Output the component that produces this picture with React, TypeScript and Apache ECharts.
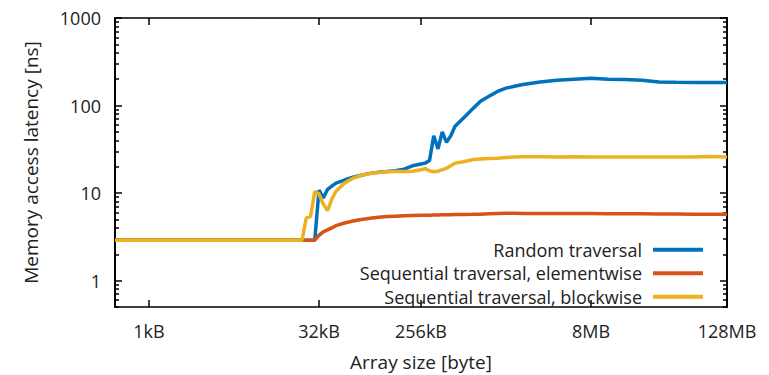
import React, { useEffect, useRef } from "react";
import * as echarts from "echarts";

// Array size as log2(bytes)
const sizeLog2 = [
  9, 9.5, 10, 10.5, 11, 11.5, 12, 12.5, 13, 13.5, 14, 14.25, 14.5, 14.625, 14.75, 14.875,
  15, 15.125, 15.25, 15.375, 15.5, 15.75, 16, 16.25, 16.5, 16.75, 17, 17.25, 17.5, 17.75,
  18, 18.125, 18.25, 18.375, 18.5, 18.625, 18.75, 18.875, 19, 19.25, 19.5, 19.75, 20,
  20.25, 20.5, 20.75, 21, 21.5, 22, 22.5, 23, 23.5, 24, 24.5, 25, 25.5, 26, 26.5, 27,
];

const randomLatency = [
  2.9, 2.9, 2.9, 2.9, 2.9, 2.9, 2.9, 2.9, 2.9, 2.9, 2.9, 2.9, 2.9, 2.9, 2.9, 2.9,
  10.8, 8.8, 11, 12, 13, 14.1, 15.2, 16, 16.8, 17.3, 17.6, 18, 18.8, 20.5,
  21.5, 22, 23.5, 45, 32, 50, 38, 45, 58, 72, 90, 112, 128,
  145, 158, 166, 174, 186, 194, 200, 205, 200, 198, 195, 186, 184, 183, 183, 183,
];

const seqElemLatency = [
  2.9, 2.9, 2.9, 2.9, 2.9, 2.9, 2.9, 2.9, 2.9, 2.9, 2.9, 2.9, 2.9, 2.9, 2.9, 2.9,
  3.3, 3.6, 3.8, 4.0, 4.25, 4.55, 4.8, 5.0, 5.15, 5.3, 5.4, 5.45, 5.5, 5.55,
  5.6, 5.6, 5.6, 5.62, 5.62, 5.65, 5.65, 5.65, 5.68, 5.7, 5.72, 5.75, 5.8,
  5.85, 5.9, 5.88, 5.85, 5.85, 5.85, 5.85, 5.85, 5.8, 5.8, 5.8, 5.78, 5.78, 5.75, 5.75, 5.75,
];

const seqBlockLatency = [
  2.9, 2.9, 2.9, 2.9, 2.9, 2.9, 2.9, 2.9, 2.9, 2.9, 2.9, 2.9, 2.9, 5.2, 5.4, 10.4,
  9.8, 7.5, 6.3, 8.5, 10.5, 13, 14.8, 16, 16.7, 17.2, 17.5, 17.6, 17.7, 17.8,
  18.5, 19, 18, 17.5, 17.8, 18.5, 19.2, 20.5, 22, 22.8, 24, 24.5, 24.8,
  25, 25.5, 25.9, 26, 26, 25.8, 26, 25.8, 25.8, 25.9, 25.8, 25.8, 25.8, 25.9, 26.1, 25.8,
];

const seriesNames = [
  "Random traversal",
  "Sequential traversal, elementwise",
  "Sequential traversal, blockwise",
];
const seriesColors = ["#0072BD", "#D95319", "#EDB120"];

const xTickLog2 = [10, 15, 18, 23, 27];
const xTickLabels = ["1kB", "32kB", "256kB", "8MB", "128MB"];

const yMin = 0.5;
const yMax = 1000;
const yMajorTicks = [1, 10, 100, 1000];
const yMinorMultipliers = [2, 3, 4, 5, 6, 7, 8, 9];
const yDecades = [0.1, 1, 10, 100];

const FONT = "Open Sans";
const TEXT_COLOR = "#222";
const FS = 18;
const NAME_FS = 19;

export default function App() {
  const ref = useRef<HTMLDivElement>(null);

  useEffect(() => {
    if (!ref.current) return;
    const chart = echarts.init(ref.current, undefined, { renderer: "svg" });

    const minorLog: number[] = [];
    yDecades.forEach((d) =>
      yMinorMultipliers.forEach((m) => {
        const v = d * m;
        if (v >= yMin && v <= yMax) minorLog.push(Math.log10(v));
      })
    );
    const majorLog = yMajorTicks.map((v) => Math.log10(v));

    const allSeries = [randomLatency, seqElemLatency, seqBlockLatency];

    const helperY = (position: string, values: number[], length: number) => ({
      type: "value",
      position,
      min: Math.log10(yMin),
      max: Math.log10(yMax),
      axisLine: { show: true, onZero: false, lineStyle: { color: "#000", width: 1.5 } },
      axisTick: {
        show: true,
        inside: true,
        length,
        customValues: values,
        lineStyle: { color: "#000", width: 1.5 },
      },
      axisLabel: { show: true, customValues: values, formatter: () => "" },
      splitLine: { show: false },
    });

    const option: any = {
      animation: false,
      backgroundColor: "#fff",
      textStyle: { fontFamily: FONT },
      grid: {
        left: 115,
        right: 42,
        top: 18,
        bottom: 68,
        containLabel: false,
        outerBoundsMode: "none",
      },
      legend: {
        orient: "vertical",
        align: "right",
        right: 61,
        top: 235,
        icon: "rect",
        itemWidth: 50,
        itemHeight: 4,
        itemGap: 4,
        data: seriesNames,
        textStyle: {
          fontFamily: FONT,
          fontSize: FS,
          color: TEXT_COLOR,
          lineHeight: 19.5,
          padding: [0, 6, 0, 0],
        },
      },
      xAxis: [
        {
          type: "value",
          position: "bottom",
          min: 9,
          max: 27,
          name: "Array size [byte]",
          nameLocation: "middle",
          nameGap: 45,
          nameTextStyle: { fontFamily: FONT, fontSize: NAME_FS, color: TEXT_COLOR },
          axisLine: { show: true, onZero: false, lineStyle: { color: "#000", width: 1.5 } },
          axisTick: {
            show: true,
            inside: true,
            length: 7,
            customValues: xTickLog2,
            lineStyle: { color: "#000", width: 1.5 },
          },
          axisLabel: {
            show: true,
            margin: 15,
            customValues: xTickLog2,
            fontFamily: FONT,
            fontSize: FS,
            color: TEXT_COLOR,
            formatter: (v: number) => {
              const i = xTickLog2.indexOf(v);
              return i >= 0 ? xTickLabels[i] : "";
            },
          },
          splitLine: { show: false },
        },
        {
          type: "value",
          position: "top",
          min: 9,
          max: 27,
          axisLine: { show: true, onZero: false, lineStyle: { color: "#000", width: 1.5 } },
          axisTick: {
            show: true,
            inside: true,
            length: 7,
            customValues: xTickLog2,
            lineStyle: { color: "#000", width: 1.5 },
          },
          axisLabel: { show: true, customValues: xTickLog2, formatter: () => "" },
          splitLine: { show: false },
        },
      ],
      yAxis: [
        {
          type: "log",
          logBase: 10,
          position: "left",
          min: yMin,
          max: yMax,
          name: "Memory access latency [ns]",
          nameLocation: "middle",
          nameGap: 75,
          nameTextStyle: { fontFamily: FONT, fontSize: NAME_FS, color: TEXT_COLOR },
          axisLine: { show: true, onZero: false, lineStyle: { color: "#000", width: 1.5 } },
          axisTick: { show: false },
          axisLabel: {
            margin: 14,
            fontFamily: FONT,
            fontSize: FS,
            color: TEXT_COLOR,
            formatter: (v: number) =>
              yMajorTicks.some((t) => Math.abs(t - v) < 1e-9) ? String(v) : "",
          },
          splitLine: { show: false },
        },
        helperY("left", majorLog, 7),
        helperY("left", minorLog, 4),
        {
          type: "log",
          logBase: 10,
          position: "right",
          min: yMin,
          max: yMax,
          axisLine: { show: true, onZero: false, lineStyle: { color: "#000", width: 1.5 } },
          axisTick: { show: false },
          axisLabel: { show: false },
          splitLine: { show: false },
        },
        helperY("right", majorLog, 7),
        helperY("right", minorLog, 4),
      ],
      series: allSeries.map((vals, si) => ({
        name: seriesNames[si],
        type: "line",
        xAxisIndex: 0,
        yAxisIndex: 0,
        showSymbol: false,
        symbol: "none",
        color: seriesColors[si],
        lineStyle: { color: seriesColors[si], width: 3.5 },
        z: 2 + si,
        data: sizeLog2.map((e, i) => [e, vals[i]]),
      })),
    };

    chart.setOption(option);
    return () => chart.dispose();
  }, []);

  return (
    <div
      ref={ref}
      style={{ position: "fixed", left: 0, top: 0, width: 769, height: 375 }}
    />
  );
}
